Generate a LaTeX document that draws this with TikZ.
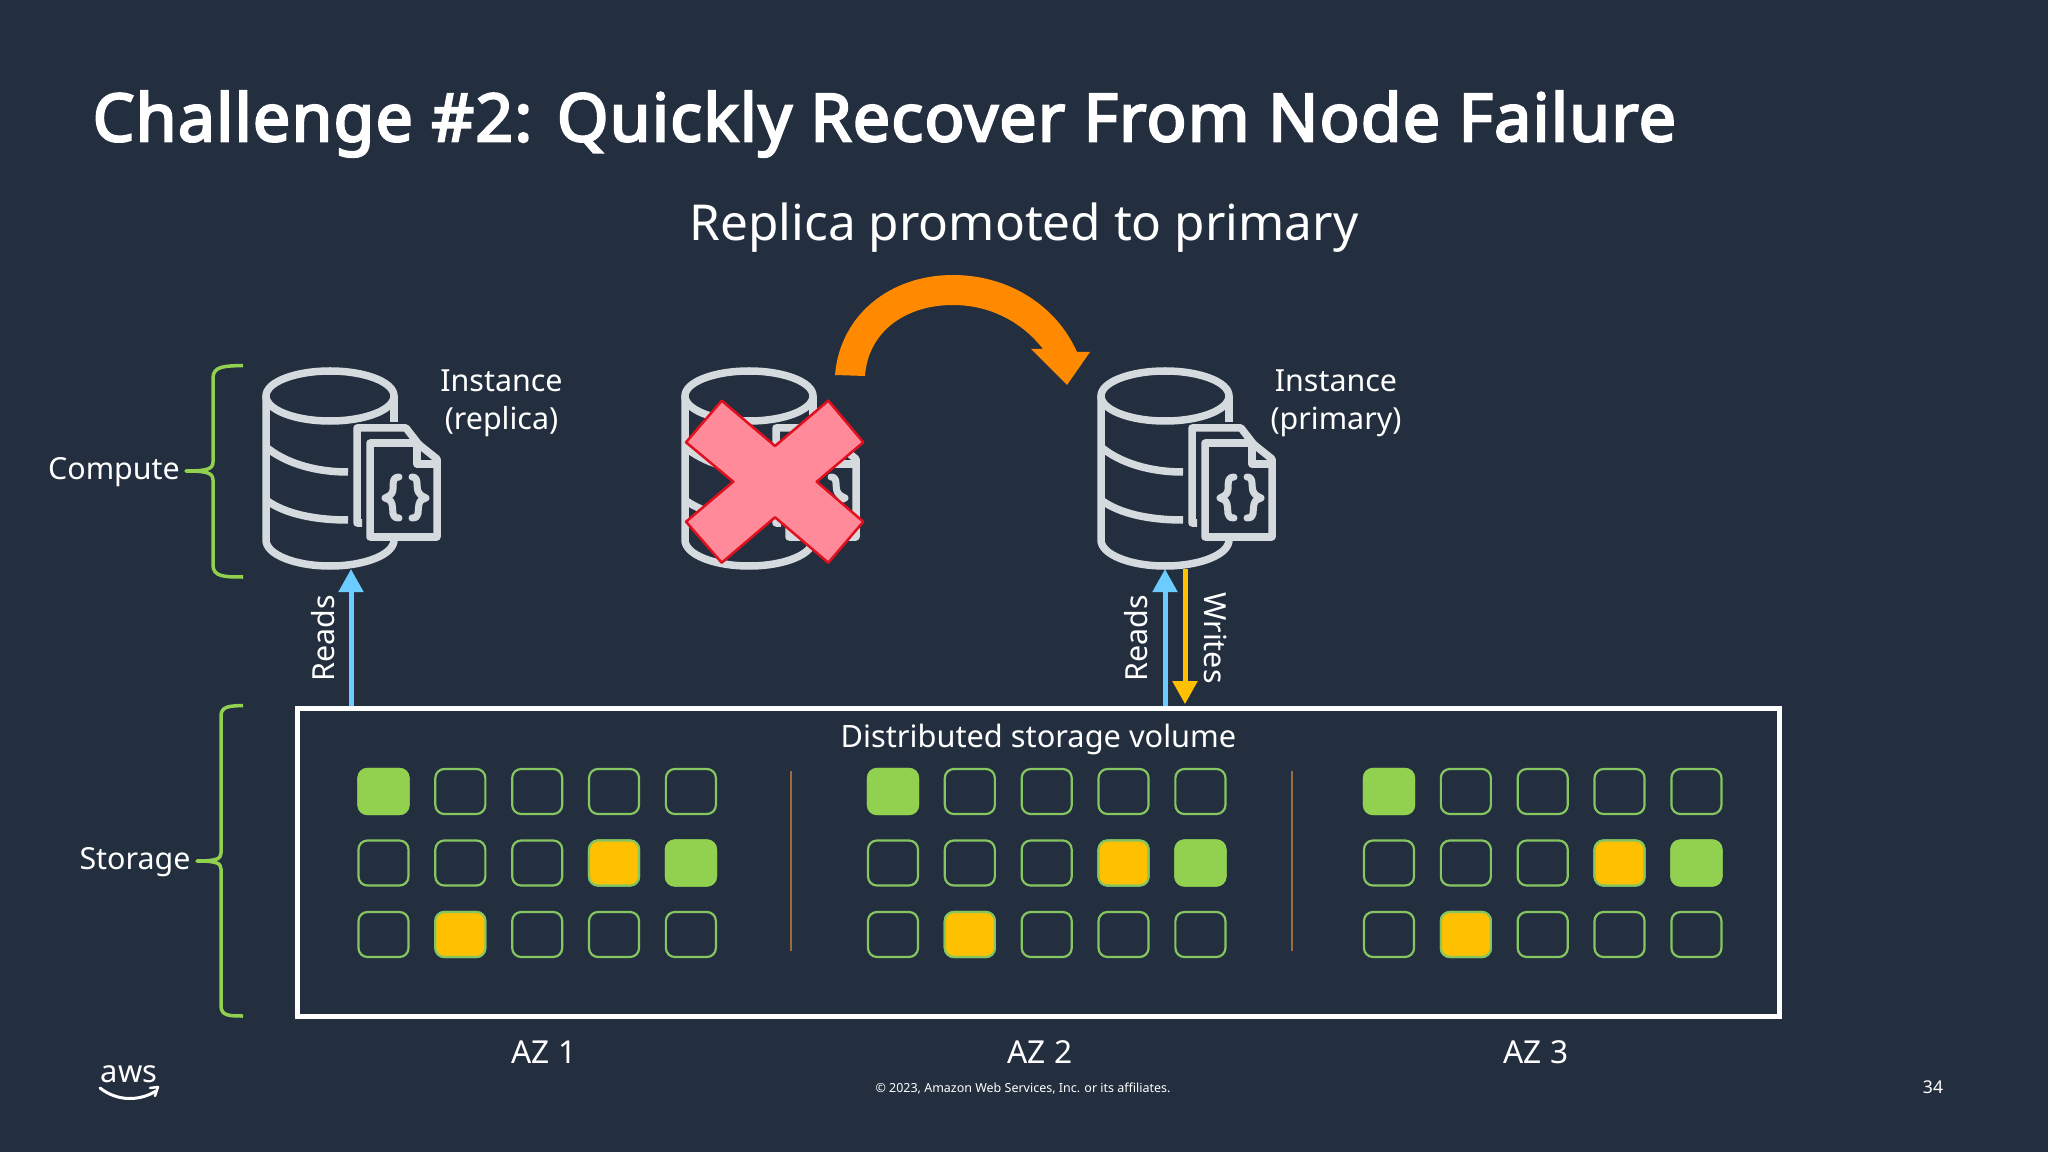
\documentclass[tikz,border=0pt]{standalone}
\usepackage{fontspec}
\setmainfont{Noto Sans}
\newfontfamily\titlefont{Noto Sans}[FakeBold=3.5,LetterSpace=1.95]
\usetikzlibrary{arrows.meta,positioning,calc}

\definecolor{slidebg}{HTML}{232F3E}
\definecolor{iconline}{HTML}{D5DADF}
\definecolor{cellgreen}{HTML}{92D050}
\definecolor{celledge}{HTML}{86C661}
\definecolor{cellyellow}{HTML}{FFC000}
\definecolor{readblue}{HTML}{6CCBFF}
\definecolor{swooporange}{HTML}{FF8A00}
\definecolor{crosspink}{HTML}{FF8A9A}
\definecolor{crossred}{HTML}{E0101E}
\definecolor{azline}{HTML}{9A6A40}

\newcommand{\fs}[2]{\fontsize{#1}{#2}\selectfont}

\tikzset{
    label/.style={text=white, inner sep=0pt, font=\fs{8.65}{10.8}, align=center},
    cell/.style={draw=celledge, line width=0.022cm, rounded corners=0.09cm, minimum width=0.5cm, minimum height=0.45cm, inner sep=0pt},
    cellg/.style={cell, fill=cellgreen, draw=cellgreen},
    celly/.style={cell, fill=cellyellow},
    bracket/.style={draw=cellgreen, line width=0.035cm, line join=round},
    readarrow/.style={draw=readblue, line width=0.05cm, -{Triangle[width=0.24cm,length=0.23cm]}},
    writearrow/.style={draw=cellyellow, line width=0.05cm, -{Triangle[width=0.24cm,length=0.23cm]}},
    dbicon/.pic={
        \draw[draw=iconline, line width=0.075cm] (0,-72) circle [x radius=64, y radius=25];
        \draw[draw=iconline, line width=0.075cm] (-64,-72) -- (-64,72) arc [start angle=180, end angle=0, x radius=64, y radius=26];
        \draw[draw=iconline, line width=0.075cm] (64,-72) -- (64,-46);
        \draw[draw=iconline, line width=0.075cm] (-64,-21) .. controls (-45,-5) and (-15,4) .. (18,4);
        \draw[draw=iconline, line width=0.075cm] (-64,32) .. controls (-45,46) and (-15,52) .. (18,52);
        \draw[draw=iconline, line width=0.075cm, line join=round] (32,55) -- (27,55) -- (27,-40) -- (76,-40) -- (90,-22);
        \draw[draw=iconline, line width=0.075cm, line join=round] (40,-25) -- (87,-25) -- (107,-9) -- (107,69) -- (40,69) -- cycle;
        \draw[draw=iconline, line width=0.075cm, line join=round] (87,-25) -- (87,-4) -- (107,-4);
        % curly marks on the page
        \draw[draw=iconline, line width=0.07cm, line cap=round, line join=round] (69,9) .. controls (60,9) and (65,20) .. (62,25) .. controls (60,28) and (57,29) .. (55,30) .. controls (58,31) and (61,32) .. (62,36) .. controls (64,42) and (60,50) .. (69,50);
        \draw[draw=iconline, line width=0.07cm, line cap=round, line join=round] (82,9) .. controls (90,9) and (85,20) .. (89,25) .. controls (91,28) and (94,29) .. (96,30) .. controls (93,31) and (90,32) .. (89,36) .. controls (87,42) and (91,50) .. (82,50);
    },
}

% one block of storage cells, #1 is the name prefix and #2 the left column
\newcommand{\azcells}[2]{
    \foreach \row/\ypos in {a/791.5,b/863,c/934.5}
        \foreach \col/\xstep in {1/0,2/1,3/2,4/3,5/4}
            \node[cell] (#1\row\col) at ({#2+\xstep*76.85},\ypos) {};
    \node[cellg] at (#1a1) {};
    \node[celly] at (#1b4) {};
    \node[cellg] at (#1b5) {};
    \node[celly] at (#1c2) {};
}

\begin{document}
\begin{tikzpicture}[x=0.01cm, y=-0.01cm]
    \useasboundingbox (0,0) rectangle (2048,1152);
    \fill[slidebg] (0,0) rectangle (2048,1152);

    % headings
    \node[label, anchor=west, font=\titlefont\fs{18.8}{23}] (title) at (92,124) {Challenge \#2: Quickly Recover From Node Failure};
    \node[label, font=\fs{14.08}{17}] (subtitle) at (1024,228) {Replica promoted to primary};

    % compute
    \pic at (330,468) {dbicon};
    \pic at (749,468) {dbicon};
    \pic at (1165,468) {dbicon};
    \coordinate (replicatip) at (351,569);
    \coordinate (primarytip) at (1165,569);
    \coordinate (primaryout) at (1185,569);

    \node[label] (replicalabel) at (501.5,403) {Instance\\(replica)};
    \node[label] (primarylabel) at (1336,403) {Instance\\(primary)};
    \node[label] (computelabel) at (114,472) {Compute};

    \filldraw[draw=crossred, fill=crosspink, line width=0.025cm, line join=round]
        (721.7,400.7) -- (775,446) -- (828.3,400.7) -- (863.3,442.3) -- (816.7,481.7) -- (863.3,521.7) -- (828.3,562.7)
        -- (775,517.3) -- (721.7,562.7) -- (686,521.7) -- (733.3,481.7) -- (686,442.3) -- cycle;

    \fill[swooporange] (835,375) .. controls (840,315) and (890,275) .. (953,275) .. controls (1008,275) and (1056,305) .. (1077,352)
        -- (1090,352) -- (1067,385) -- (1031,349) -- (1043,349) .. controls (1022,322) and (990,305) .. (953,305) .. controls (905,305) and (868,332) .. (865,376) -- cycle;

    % storage
    \node[draw=white, line width=0.05cm, minimum width=14.82cm, minimum height=3.075cm, inner sep=0pt] (volume) at (1038.5,862.5) {};
    \node[label, below=0.17cm of volume.north, font=\fs{8.75}{10.8}] (volumelabel) {Distributed storage volume};

    \draw[readarrow] (volume.north -| replicatip) -- (replicatip);
    \draw[readarrow] (volume.north -| primarytip) -- (primarytip);
    \draw[writearrow] (primaryout) -- ($(volume.north -| primaryout)+(0,-2)$);
    \node[label, rotate=90] (readsa) at (323,638) {Reads};
    \node[label, rotate=90] (readsb) at (1136,638) {Reads};
    \node[label, rotate=-90] (writes) at (1216,638) {Writes};

    \azcells{one}{383.5}
    \azcells{two}{893}
    \azcells{three}{1389}

    \draw[azline, line width=0.02cm] (791,771) -- (791,951);
    \draw[azline, line width=0.02cm] (1292,771) -- (1292,951);

    \node[label, font=\fs{9}{11}] (azone) at (544,1052) {AZ 1};
    \node[label, font=\fs{9}{11}] (aztwo) at (1040,1052) {AZ 2};
    \node[label, font=\fs{9}{11}] (azthree) at (1536,1052) {AZ 3};

    % brackets
    \draw[bracket] (243,365.5) .. controls (225,366) and (213,366) .. (213,378) -- (213,462) .. controls (213,469) and (207,471) .. (186,471)
        .. controls (207,471) and (213,473) .. (213,480) -- (213,565) .. controls (213,577) and (225,577) .. (243,577);
    \draw[bracket] (243,705.5) .. controls (230,706) and (221,706) .. (221,716) -- (221,853) .. controls (221,859) and (216,861) .. (197,861)
        .. controls (216,861) and (221,863) .. (221,869) -- (221,1006) .. controls (221,1016) and (230,1016) .. (243,1016);
    \node[label] (storagelabel) at (135,862) {Storage};

    % footer
    \node[label, font=\fs{3.55}{4.5}] (copyright) at (1023,1089) {© 2023, Amazon Web Services, Inc. or its affiliates.};
    \node[label, font=\fs{5}{6}] (pagenum) at (1933,1087) {34};
    \node[label, font=\fs{8.8}{12}] (awstext) at (129,1074) {aws};
    \draw[white, line width=0.03cm, line cap=round] (100,1088) .. controls (118,1102) and (140,1101) .. (156,1091);
    \draw[white, line width=0.025cm, line cap=round, line join=round] (150,1088) -- (158,1087) -- (155,1096);
\end{tikzpicture}
\end{document}
